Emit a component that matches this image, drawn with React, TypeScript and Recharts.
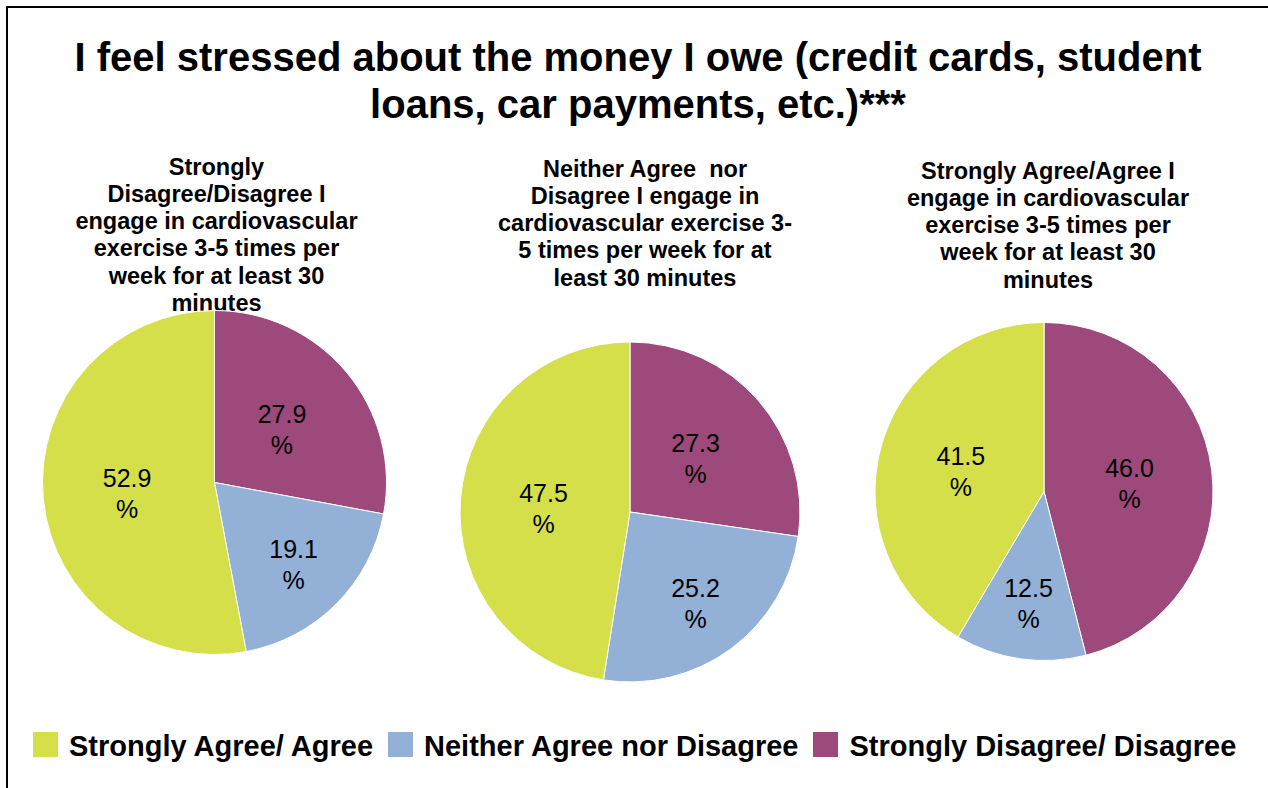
import { PieChart, Pie, Cell } from 'recharts';

// slices run clockwise from 12 o'clock in this order
const CATEGORIES = ['Strongly Disagree/ Disagree', 'Neither Agree nor Disagree', 'Strongly Agree/ Agree'];
const COLORS = ['#9D497B', '#93B0D7', '#D4DF4A'];
const LEGEND_ORDER = [2, 1, 0];

const LOW_EXERCISE = [27.9, 19.1, 52.9];
const MID_EXERCISE = [27.3, 25.2, 47.5];
const HIGH_EXERCISE = [46.0, 12.5, 41.5];

const TITLE = ['I feel stressed about the money I owe (credit cards, student', 'loans, car payments, etc.)***'];
const PIE_TITLES = [
  'Strongly\nDisagree/Disagree I\nengage in cardiovascular\nexercise 3-5 times per\nweek for at least 30\nminutes',
  'Neither Agree  nor\nDisagree I engage in\ncardiovascular exercise 3-\n5 times per week for at\nleast 30 minutes',
  'Strongly Agree/Agree I\nengage in cardiovascular\nexercise 3-5 times per\nweek for at least 30\nminutes',
];

const SERIES = [LOW_EXERCISE, MID_EXERCISE, HIGH_EXERCISE];

// layout of each pie and its heading
const PIE_LAYOUT = [
  { cx: 214.5, cy: 482.5, r: 172, titleX: 216.5, titleTop: 153.5 },
  { cx: 630, cy: 512, r: 170, titleX: 645, titleTop: 155.5 },
  { cx: 1044, cy: 491.5, r: 169, titleX: 1048, titleTop: 157.5 },
];

const FONT = "'Liberation Sans', Arial, Helvetica, sans-serif";
const RADIAN = Math.PI / 180;

const renderLabel = (props: any) => {
  const { cx, cy, midAngle, outerRadius, value, index } = props;
  // the small middle slice is labelled further out, like the original
  const k = index === 1 ? 0.65 : 0.51;
  const r = outerRadius * k;
  const x = cx + r * Math.cos(-midAngle * RADIAN);
  const y = cy + r * Math.sin(-midAngle * RADIAN) + 3;
  return (
    <text
      x={x}
      y={y}
      textAnchor="middle"
      fill="#000"
      fontSize={25}
      fontFamily={FONT}
      dominantBaseline="central"
    >
      <tspan x={x} y={y - 15.5}>{Number(value).toFixed(1)}</tspan>
      <tspan x={x} y={y + 15.5}>%</tspan>
    </text>
  );
};

export default function App() {
  return (
    <div
      style={{
        position: 'absolute',
        left: 0,
        top: 0,
        width: 1268,
        height: 788,
        overflow: 'hidden',
        background: '#fff',
        fontFamily: FONT,
      }}
    >
      <div
        style={{
          position: 'absolute',
          left: 6,
          top: 6,
          width: 1400,
          height: 900,
          borderTop: '2px solid #000',
          borderLeft: '2px solid #000',
        }}
      />

      <div
        style={{
          position: 'absolute',
          left: 0,
          top: 33.5,
          width: 1276,
          textAlign: 'center',
          fontSize: 40,
          fontWeight: 'bold',
          lineHeight: '47px',
          color: '#000',
        }}
      >
        {TITLE.map((t) => (
          <div key={t}>{t}</div>
        ))}
      </div>

      {PIE_TITLES.map((t, i) => (
        <div
          key={i}
          style={{
            position: 'absolute',
            left: PIE_LAYOUT[i].titleX - 200,
            top: PIE_LAYOUT[i].titleTop,
            width: 400,
            textAlign: 'center',
            whiteSpace: 'pre',
            fontSize: 23.5,
            fontWeight: 'bold',
            lineHeight: '27.3px',
            color: '#000',
          }}
        >
          {t}
        </div>
      ))}

      <div style={{ position: 'absolute', left: 0, top: 0 }}>
        <PieChart width={1268} height={788} margin={{ top: 0, right: 0, bottom: 0, left: 0 }}>
          {SERIES.map((values, i) => {
            const data = CATEGORIES.map((name, j) => ({ name, value: values[j] }));
            const L = PIE_LAYOUT[i];
            return (
              <Pie
                key={i}
                data={data}
                dataKey="value"
                nameKey="name"
                cx={L.cx}
                cy={L.cy}
                outerRadius={L.r}
                startAngle={90}
                endAngle={-270}
                stroke="#fff"
                strokeWidth={1}
                label={renderLabel}
                labelLine={false}
                isAnimationActive={false}
              >
                {data.map((d, j) => (
                  <Cell key={d.name} fill={COLORS[j]} />
                ))}
              </Pie>
            );
          })}
        </PieChart>
      </div>

      <div
        style={{
          position: 'absolute',
          left: 33,
          top: 730,
          display: 'flex',
          alignItems: 'flex-start',
          fontSize: 29,
          fontWeight: 'bold',
          lineHeight: '33px',
          color: '#000',
          whiteSpace: 'nowrap',
        }}
      >
        {LEGEND_ORDER.map((j, n) => (
          <div key={j} style={{ display: 'flex', alignItems: 'flex-start', marginLeft: n === 0 ? 0 : 15 }}>
            <div style={{ width: 25, height: 25, marginTop: 2, background: COLORS[j], marginRight: 11 }} />
            <span>{CATEGORIES[j]}</span>
          </div>
        ))}
      </div>
    </div>
  );
}
